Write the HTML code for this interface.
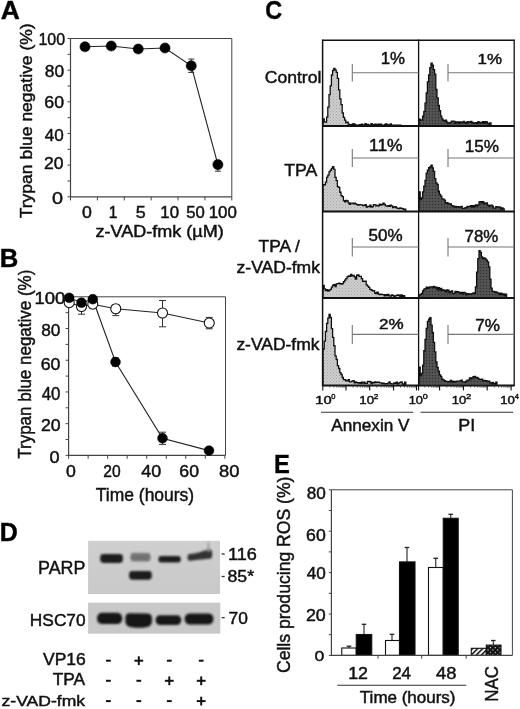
<!DOCTYPE html>
<html><head><meta charset="utf-8"><style>
html,body{margin:0;padding:0;background:#fff;}
svg{display:block;font-family:"Liberation Sans",sans-serif;filter:grayscale(100%) blur(0.35px);}
text{stroke:#111;stroke-width:0.45px;}
</style></head><body>
<svg width="520" height="709" viewBox="0 0 520 709">
<rect width="520" height="709" fill="#fff"/>
<text transform="translate(0.64,19.00) scale(1.024,1)" font-size="25.80" font-weight="bold" fill="#000">A</text>
<line x1="70.50" y1="38.50" x2="231.80" y2="38.50" stroke="#444" stroke-width="1"/>
<line x1="231.80" y1="38.50" x2="231.80" y2="196.80" stroke="#444" stroke-width="1"/>
<line x1="70.50" y1="38.50" x2="70.50" y2="197.30" stroke="#444" stroke-width="1.2"/>
<line x1="70.00" y1="196.80" x2="231.80" y2="196.80" stroke="#444" stroke-width="1.2"/>
<line x1="67.50" y1="196.80" x2="70.50" y2="196.80" stroke="#444" stroke-width="1"/>
<line x1="67.50" y1="180.97" x2="70.50" y2="180.97" stroke="#444" stroke-width="1"/>
<line x1="67.50" y1="165.14" x2="70.50" y2="165.14" stroke="#444" stroke-width="1"/>
<line x1="67.50" y1="149.31" x2="70.50" y2="149.31" stroke="#444" stroke-width="1"/>
<line x1="67.50" y1="133.48" x2="70.50" y2="133.48" stroke="#444" stroke-width="1"/>
<line x1="67.50" y1="117.65" x2="70.50" y2="117.65" stroke="#444" stroke-width="1"/>
<line x1="67.50" y1="101.82" x2="70.50" y2="101.82" stroke="#444" stroke-width="1"/>
<line x1="67.50" y1="85.99" x2="70.50" y2="85.99" stroke="#444" stroke-width="1"/>
<line x1="67.50" y1="70.16" x2="70.50" y2="70.16" stroke="#444" stroke-width="1"/>
<line x1="67.50" y1="54.33" x2="70.50" y2="54.33" stroke="#444" stroke-width="1"/>
<line x1="67.50" y1="38.50" x2="70.50" y2="38.50" stroke="#444" stroke-width="1"/>
<text transform="translate(38.40,45.03) scale(0.960,1)" font-size="16.62" fill="#111">100</text>
<text transform="translate(44.72,77.13) scale(1.037,1)" font-size="16.76" fill="#111">80</text>
<text transform="translate(44.31,107.73) scale(1.051,1)" font-size="16.90" fill="#111">60</text>
<text transform="translate(44.86,141.43) scale(1.001,1)" font-size="17.04" fill="#111">40</text>
<text transform="translate(44.02,169.34) scale(1.066,1)" font-size="16.48" fill="#111">20</text>
<text transform="translate(52.01,203.64) scale(1.201,1)" font-size="16.48" fill="#111">0</text>
<line x1="70.50" y1="196.80" x2="70.50" y2="200.40" stroke="#444" stroke-width="1"/>
<line x1="97.38" y1="196.80" x2="97.38" y2="200.40" stroke="#444" stroke-width="1"/>
<line x1="124.27" y1="196.80" x2="124.27" y2="200.40" stroke="#444" stroke-width="1"/>
<line x1="151.15" y1="196.80" x2="151.15" y2="200.40" stroke="#444" stroke-width="1"/>
<line x1="178.03" y1="196.80" x2="178.03" y2="200.40" stroke="#444" stroke-width="1"/>
<line x1="204.92" y1="196.80" x2="204.92" y2="200.40" stroke="#444" stroke-width="1"/>
<line x1="231.80" y1="196.80" x2="231.80" y2="200.40" stroke="#444" stroke-width="1"/>
<text transform="translate(81.99,218.24) scale(1.123,1)" font-size="15.77" fill="#111">0</text>
<text transform="translate(108.83,218.40) scale(0.963,1)" font-size="16.23" fill="#111">1</text>
<text transform="translate(135.78,218.24) scale(1.118,1)" font-size="16.00" fill="#111">5</text>
<text transform="translate(160.34,218.24) scale(1.065,1)" font-size="15.77" fill="#111">10</text>
<text transform="translate(186.33,218.24) scale(1.060,1)" font-size="15.77" fill="#111">50</text>
<text transform="translate(208.73,218.24) scale(1.072,1)" font-size="15.77" fill="#111">100</text>
<text transform="translate(95.58,236.80) scale(1.157,1)" font-size="15.59" fill="#111">z-VAD-fmk (µM)</text>
<text transform="translate(32.06,218.25) rotate(-90) scale(1.070,1)" font-size="16.36" fill="#111">Trypan blue negative (%)</text>
<path d="M85.00,46.75 L111.25,46.00 L138.25,49.00 L165.00,48.00 L191.25,65.75 L217.90,164.60" fill="none" stroke="#222" stroke-width="1.1" />
<line x1="191.25" y1="59.05" x2="191.25" y2="72.45" stroke="#333" stroke-width="1"/>
<line x1="188.25" y1="59.05" x2="194.25" y2="59.05" stroke="#333" stroke-width="1"/>
<line x1="188.25" y1="72.45" x2="194.25" y2="72.45" stroke="#333" stroke-width="1"/>
<line x1="217.90" y1="160.60" x2="217.90" y2="171.20" stroke="#333" stroke-width="1"/>
<line x1="214.90" y1="160.60" x2="220.90" y2="160.60" stroke="#333" stroke-width="1"/>
<line x1="214.90" y1="171.20" x2="220.90" y2="171.20" stroke="#333" stroke-width="1"/>
<circle cx="85.00" cy="46.75" r="5.10" fill="#000" stroke="#000" stroke-width="0.5"/>
<circle cx="111.25" cy="46.00" r="5.10" fill="#000" stroke="#000" stroke-width="0.5"/>
<circle cx="138.25" cy="49.00" r="5.10" fill="#000" stroke="#000" stroke-width="0.5"/>
<circle cx="165.00" cy="48.00" r="5.10" fill="#000" stroke="#000" stroke-width="0.5"/>
<circle cx="191.25" cy="65.75" r="5.10" fill="#000" stroke="#000" stroke-width="0.5"/>
<circle cx="217.90" cy="164.60" r="5.10" fill="#000" stroke="#000" stroke-width="0.5"/>
<text transform="translate(-0.37,266.90) scale(0.981,1)" font-size="26.23" font-weight="bold" fill="#000">B</text>
<line x1="68.60" y1="296.80" x2="225.50" y2="296.80" stroke="#444" stroke-width="1"/>
<line x1="225.50" y1="296.80" x2="225.50" y2="455.40" stroke="#444" stroke-width="1"/>
<line x1="68.60" y1="296.80" x2="68.60" y2="455.90" stroke="#444" stroke-width="1.2"/>
<line x1="68.10" y1="455.40" x2="225.50" y2="455.40" stroke="#444" stroke-width="1.2"/>
<line x1="65.60" y1="455.40" x2="68.60" y2="455.40" stroke="#444" stroke-width="1"/>
<line x1="65.60" y1="439.54" x2="68.60" y2="439.54" stroke="#444" stroke-width="1"/>
<line x1="65.60" y1="423.68" x2="68.60" y2="423.68" stroke="#444" stroke-width="1"/>
<line x1="65.60" y1="407.82" x2="68.60" y2="407.82" stroke="#444" stroke-width="1"/>
<line x1="65.60" y1="391.96" x2="68.60" y2="391.96" stroke="#444" stroke-width="1"/>
<line x1="65.60" y1="376.10" x2="68.60" y2="376.10" stroke="#444" stroke-width="1"/>
<line x1="65.60" y1="360.24" x2="68.60" y2="360.24" stroke="#444" stroke-width="1"/>
<line x1="65.60" y1="344.38" x2="68.60" y2="344.38" stroke="#444" stroke-width="1"/>
<line x1="65.60" y1="328.52" x2="68.60" y2="328.52" stroke="#444" stroke-width="1"/>
<line x1="65.60" y1="312.66" x2="68.60" y2="312.66" stroke="#444" stroke-width="1"/>
<line x1="65.60" y1="296.80" x2="68.60" y2="296.80" stroke="#444" stroke-width="1"/>
<text transform="translate(34.41,303.64) scale(1.185,1)" font-size="15.63" fill="#111">100</text>
<text transform="translate(41.22,336.33) scale(1.014,1)" font-size="17.04" fill="#111">80</text>
<text transform="translate(40.71,369.93) scale(1.051,1)" font-size="16.90" fill="#111">60</text>
<text transform="translate(41.66,399.53) scale(0.966,1)" font-size="17.46" fill="#111">40</text>
<text transform="translate(40.92,430.74) scale(1.072,1)" font-size="16.48" fill="#111">20</text>
<text transform="translate(49.48,463.04) scale(1.149,1)" font-size="15.77" fill="#111">0</text>
<line x1="68.60" y1="455.40" x2="68.60" y2="458.80" stroke="#444" stroke-width="1"/>
<line x1="88.13" y1="455.40" x2="88.13" y2="458.80" stroke="#444" stroke-width="1"/>
<line x1="107.66" y1="455.40" x2="107.66" y2="458.80" stroke="#444" stroke-width="1"/>
<line x1="127.19" y1="455.40" x2="127.19" y2="458.80" stroke="#444" stroke-width="1"/>
<line x1="146.72" y1="455.40" x2="146.72" y2="458.80" stroke="#444" stroke-width="1"/>
<line x1="166.25" y1="455.40" x2="166.25" y2="458.80" stroke="#444" stroke-width="1"/>
<line x1="185.78" y1="455.40" x2="185.78" y2="458.80" stroke="#444" stroke-width="1"/>
<line x1="205.31" y1="455.40" x2="205.31" y2="458.80" stroke="#444" stroke-width="1"/>
<line x1="224.84" y1="455.40" x2="224.84" y2="458.80" stroke="#444" stroke-width="1"/>
<text transform="translate(65.89,476.84) scale(1.084,1)" font-size="16.34" fill="#111">0</text>
<text transform="translate(103.22,476.84) scale(0.955,1)" font-size="16.34" fill="#111">20</text>
<text transform="translate(141.34,476.84) scale(1.097,1)" font-size="16.34" fill="#111">40</text>
<text transform="translate(179.32,476.84) scale(1.081,1)" font-size="16.34" fill="#111">60</text>
<text transform="translate(218.97,476.84) scale(1.123,1)" font-size="16.34" fill="#111">80</text>
<text transform="translate(95.85,501.20) scale(0.997,1)" font-size="17.52" fill="#111">Time (hours)</text>
<text transform="translate(31.29,458.74) rotate(-90) scale(0.963,1)" font-size="17.65" fill="#111">Trypan blue negative (%)</text>
<path d="M69.20,302.70 L81.50,306.50 L92.80,304.20 L115.75,308.75 L162.50,313.00 L209.25,323.00" fill="none" stroke="#222" stroke-width="1.1" />
<path d="M69.20,297.80 L81.50,302.70 L92.80,299.20 L115.50,362.00 L162.50,438.20 L209.00,450.60" fill="none" stroke="#222" stroke-width="1.1" />
<line x1="81.50" y1="300.50" x2="81.50" y2="314.20" stroke="#333" stroke-width="1"/>
<line x1="78.00" y1="300.50" x2="85.00" y2="300.50" stroke="#333" stroke-width="1"/>
<line x1="78.00" y1="314.20" x2="85.00" y2="314.20" stroke="#333" stroke-width="1"/>
<line x1="92.80" y1="301.20" x2="92.80" y2="308.20" stroke="#333" stroke-width="1"/>
<line x1="89.30" y1="301.20" x2="96.30" y2="301.20" stroke="#333" stroke-width="1"/>
<line x1="89.30" y1="308.20" x2="96.30" y2="308.20" stroke="#333" stroke-width="1"/>
<line x1="115.75" y1="304.75" x2="115.75" y2="315.65" stroke="#333" stroke-width="1"/>
<line x1="112.25" y1="304.75" x2="119.25" y2="304.75" stroke="#333" stroke-width="1"/>
<line x1="112.25" y1="315.65" x2="119.25" y2="315.65" stroke="#333" stroke-width="1"/>
<line x1="162.50" y1="300.50" x2="162.50" y2="326.80" stroke="#333" stroke-width="1"/>
<line x1="159.00" y1="300.50" x2="166.00" y2="300.50" stroke="#333" stroke-width="1"/>
<line x1="159.00" y1="326.80" x2="166.00" y2="326.80" stroke="#333" stroke-width="1"/>
<line x1="209.25" y1="317.40" x2="209.25" y2="328.80" stroke="#333" stroke-width="1"/>
<line x1="205.75" y1="317.40" x2="212.75" y2="317.40" stroke="#333" stroke-width="1"/>
<line x1="205.75" y1="328.80" x2="212.75" y2="328.80" stroke="#333" stroke-width="1"/>
<line x1="115.50" y1="358.00" x2="115.50" y2="366.00" stroke="#333" stroke-width="1"/>
<line x1="112.00" y1="358.00" x2="119.00" y2="358.00" stroke="#333" stroke-width="1"/>
<line x1="112.00" y1="366.00" x2="119.00" y2="366.00" stroke="#333" stroke-width="1"/>
<line x1="162.50" y1="432.20" x2="162.50" y2="444.40" stroke="#333" stroke-width="1"/>
<line x1="159.00" y1="432.20" x2="166.00" y2="432.20" stroke="#333" stroke-width="1"/>
<line x1="159.00" y1="444.40" x2="166.00" y2="444.40" stroke="#333" stroke-width="1"/>
<circle cx="69.20" cy="302.70" r="5.00" fill="#fff" stroke="#111" stroke-width="1.1"/>
<circle cx="81.50" cy="306.50" r="5.00" fill="#fff" stroke="#111" stroke-width="1.1"/>
<circle cx="92.80" cy="304.20" r="5.00" fill="#fff" stroke="#111" stroke-width="1.1"/>
<circle cx="115.75" cy="308.75" r="5.00" fill="#fff" stroke="#111" stroke-width="1.1"/>
<circle cx="162.50" cy="313.00" r="5.00" fill="#fff" stroke="#111" stroke-width="1.1"/>
<circle cx="209.25" cy="323.00" r="5.00" fill="#fff" stroke="#111" stroke-width="1.1"/>
<circle cx="69.20" cy="297.80" r="4.90" fill="#000" stroke="#000" stroke-width="0.5"/>
<circle cx="81.50" cy="302.70" r="4.90" fill="#000" stroke="#000" stroke-width="0.5"/>
<circle cx="92.80" cy="299.20" r="4.90" fill="#000" stroke="#000" stroke-width="0.5"/>
<circle cx="115.50" cy="362.00" r="4.90" fill="#000" stroke="#000" stroke-width="0.5"/>
<circle cx="162.50" cy="438.20" r="4.90" fill="#000" stroke="#000" stroke-width="0.5"/>
<circle cx="209.00" cy="450.60" r="4.90" fill="#000" stroke="#000" stroke-width="0.5"/>
<text transform="translate(265.17,19.05) scale(0.916,1)" font-size="25.49" font-weight="bold" fill="#000">C</text>
<defs><pattern id="stip" width="3" height="3" patternUnits="userSpaceOnUse"><rect width="3" height="3" fill="#cdcdcd"/><rect x="0" y="0" width="1" height="1" fill="#a8a8a8"/><rect x="1.5" y="1.5" width="1" height="1" fill="#b4b4b4"/></pattern><pattern id="dstip" width="3" height="3" patternUnits="userSpaceOnUse"><rect width="3" height="3" fill="#4e4e4e"/><rect x="0" y="0" width="1" height="1" fill="#333"/><rect x="1.5" y="1.5" width="1" height="1" fill="#666"/></pattern></defs>
<path d="M323.00,125.40 L323.00,118.95 L324.20,118.95 L324.20,121.87 L325.40,121.87 L325.40,122.20 L326.60,122.20 L326.60,117.13 L327.80,117.13 L327.80,107.04 L329.00,107.04 L329.00,94.63 L330.20,94.63 L330.20,85.86 L331.40,85.86 L331.40,74.98 L332.60,74.98 L332.60,70.51 L333.80,70.51 L333.80,68.40 L335.00,68.40 L335.00,69.97 L336.20,69.97 L336.20,72.28 L337.40,72.28 L337.40,78.35 L338.60,78.35 L338.60,89.80 L339.80,89.80 L339.80,98.84 L341.00,98.84 L341.00,104.65 L342.20,104.65 L342.20,112.96 L343.40,112.96 L343.40,117.29 L344.60,117.29 L344.60,120.04 L345.80,120.04 L345.80,122.64 L347.00,122.64 L347.00,122.27 L348.20,122.27 L348.20,124.13 L349.40,124.13 L349.40,124.87 L350.60,124.87 L350.60,124.67 L351.80,124.67 L351.80,124.48 L353.00,124.48 L353.00,123.63 L354.20,123.63 L354.20,124.46 L355.40,124.46 L355.40,124.90 L356.60,124.90 L356.60,125.40 L357.80,125.40 L357.80,125.40 L359.00,125.40 L359.00,124.60 L360.20,124.60 L360.20,125.40 L361.40,125.40 L361.40,124.09 L362.60,124.09 L362.60,125.40 L363.80,125.40 L363.80,124.82 L365.00,124.82 L365.00,123.53 L366.20,123.53 L366.20,125.25 L367.40,125.25 L367.40,124.48 L368.60,124.48 L368.60,125.40 L369.80,125.40 L369.80,125.16 L371.00,125.16 L371.00,123.55 L372.20,123.55 L372.20,124.75 L373.40,124.75 L373.40,125.40 L374.60,125.40 L374.60,124.17 L375.80,124.17 L375.80,124.37 L377.00,124.37 L377.00,125.40 L378.20,125.40 L378.20,124.07 L379.40,124.07 L379.40,124.99 L380.60,124.99 L380.60,124.20 L381.80,124.20 L381.80,125.40 L383.00,125.40 L383.00,125.40 L384.20,125.40 L384.20,124.74 L385.40,124.74 L385.40,123.86 L386.60,123.86 L386.60,124.45 L387.80,124.45 L387.80,124.92 L389.00,124.92 L389.00,125.40 L390.20,125.40 L390.20,123.97 L391.40,123.97 L391.40,125.05 L392.60,125.05 L392.60,125.40 L393.80,125.40 L393.80,125.06 L395.00,125.06 L395.00,125.40 L396.20,125.40 L396.20,125.07 L397.40,125.07 L397.40,125.40 L398.60,125.40 L398.60,125.24 L399.80,125.24 L399.80,125.21 L401.00,125.21 L401.00,125.40" fill="url(#stip)" stroke="#111" stroke-width="1.3" stroke-linejoin="miter"/>
<path d="M419.00,125.40 L419.00,119.19 L420.20,119.19 L420.20,120.01 L421.40,120.01 L421.40,120.21 L422.60,120.21 L422.60,116.17 L423.80,116.17 L423.80,111.39 L425.00,111.39 L425.00,103.16 L426.20,103.16 L426.20,93.00 L427.40,93.00 L427.40,81.87 L428.60,81.87 L428.60,74.88 L429.80,74.88 L429.80,67.59 L431.00,67.59 L431.00,63.06 L432.20,63.06 L432.20,65.10 L433.40,65.10 L433.40,69.60 L434.60,69.60 L434.60,74.22 L435.80,74.22 L435.80,89.40 L437.00,89.40 L437.00,97.89 L438.20,97.89 L438.20,105.50 L439.40,105.50 L439.40,110.63 L440.60,110.63 L440.60,116.16 L441.80,116.16 L441.80,118.83 L443.00,118.83 L443.00,120.50 L444.20,120.50 L444.20,121.03 L445.40,121.03 L445.40,120.24 L446.60,120.24 L446.60,122.27 L447.80,122.27 L447.80,122.99 L449.00,122.99 L449.00,123.11 L450.20,123.11 L450.20,122.35 L451.40,122.35 L451.40,121.05 L452.60,121.05 L452.60,121.04 L453.80,121.04 L453.80,121.39 L455.00,121.39 L455.00,123.46 L456.20,123.46 L456.20,121.84 L457.40,121.84 L457.40,122.02 L458.60,122.02 L458.60,123.39 L459.80,123.39 L459.80,121.91 L461.00,121.91 L461.00,122.52 L462.20,122.52 L462.20,122.25 L463.40,122.25 L463.40,121.32 L464.60,121.32 L464.60,122.66 L465.80,122.66 L465.80,123.33 L467.00,123.33 L467.00,121.59 L468.20,121.59 L468.20,121.78 L469.40,121.78 L469.40,122.27 L470.60,122.27 L470.60,121.33 L471.80,121.33 L471.80,122.51 L473.00,122.51 L473.00,123.34 L474.20,123.34 L474.20,122.95 L475.40,122.95 L475.40,122.65 L476.60,122.65 L476.60,123.48 L477.80,123.48 L477.80,121.70 L479.00,121.70 L479.00,122.77 L480.20,122.77 L480.20,122.29 L481.40,122.29 L481.40,122.88 L482.60,122.88 L482.60,121.66 L483.80,121.66 L483.80,123.35 L485.00,123.35 L485.00,121.64 L486.20,121.64 L486.20,121.83 L487.40,121.83 L487.40,123.47 L488.60,123.47 L488.60,123.98 L489.80,123.98 L489.80,122.98 L491.00,122.98 L491.00,125.40" fill="url(#dstip)" stroke="#111" stroke-width="1.3" stroke-linejoin="miter"/>
<path d="M323.00,210.90 L323.00,184.67 L324.20,184.67 L324.20,184.91 L325.40,184.91 L325.40,182.22 L326.60,182.22 L326.60,177.44 L327.80,177.44 L327.80,175.18 L329.00,175.18 L329.00,171.80 L330.20,171.80 L330.20,170.23 L331.40,170.23 L331.40,168.41 L332.60,168.41 L332.60,166.56 L333.80,166.56 L333.80,169.36 L335.00,169.36 L335.00,177.31 L336.20,177.31 L336.20,180.54 L337.40,180.54 L337.40,186.56 L338.60,186.56 L338.60,187.34 L339.80,187.34 L339.80,192.26 L341.00,192.26 L341.00,195.71 L342.20,195.71 L342.20,196.57 L343.40,196.57 L343.40,200.72 L344.60,200.72 L344.60,201.77 L345.80,201.77 L345.80,200.46 L347.00,200.46 L347.00,200.99 L348.20,200.99 L348.20,202.85 L349.40,202.85 L349.40,204.36 L350.60,204.36 L350.60,203.20 L351.80,203.20 L351.80,203.15 L353.00,203.15 L353.00,203.97 L354.20,203.97 L354.20,203.13 L355.40,203.13 L355.40,203.88 L356.60,203.88 L356.60,204.69 L357.80,204.69 L357.80,205.08 L359.00,205.08 L359.00,204.60 L360.20,204.60 L360.20,204.80 L361.40,204.80 L361.40,204.89 L362.60,204.89 L362.60,205.65 L363.80,205.65 L363.80,205.32 L365.00,205.32 L365.00,204.73 L366.20,204.73 L366.20,207.01 L367.40,207.01 L367.40,206.39 L368.60,206.39 L368.60,206.59 L369.80,206.59 L369.80,205.23 L371.00,205.23 L371.00,207.21 L372.20,207.21 L372.20,206.70 L373.40,206.70 L373.40,204.57 L374.60,204.57 L374.60,204.93 L375.80,204.93 L375.80,205.74 L377.00,205.74 L377.00,205.47 L378.20,205.47 L378.20,205.84 L379.40,205.84 L379.40,204.22 L380.60,204.22 L380.60,205.12 L381.80,205.12 L381.80,204.48 L383.00,204.48 L383.00,203.26 L384.20,203.26 L384.20,204.52 L385.40,204.52 L385.40,205.80 L386.60,205.80 L386.60,206.17 L387.80,206.17 L387.80,205.73 L389.00,205.73 L389.00,206.28 L390.20,206.28 L390.20,205.11 L391.40,205.11 L391.40,205.95 L392.60,205.95 L392.60,207.69 L393.80,207.69 L393.80,206.99 L395.00,206.99 L395.00,206.66 L396.20,206.66 L396.20,207.82 L397.40,207.82 L397.40,208.41 L398.60,208.41 L398.60,208.53 L399.80,208.53 L399.80,207.96 L401.00,207.96 L401.00,208.32 L402.20,208.32 L402.20,208.69 L403.40,208.69 L403.40,209.60 L404.60,209.60 L404.60,209.25 L405.80,209.25 L405.80,210.90" fill="url(#stip)" stroke="#111" stroke-width="1.3" stroke-linejoin="miter"/>
<path d="M419.00,210.90 L419.00,191.84 L420.20,191.84 L420.20,199.68 L421.40,199.68 L421.40,197.82 L422.60,197.82 L422.60,191.89 L423.80,191.89 L423.80,186.03 L425.00,186.03 L425.00,180.34 L426.20,180.34 L426.20,173.07 L427.40,173.07 L427.40,170.15 L428.60,170.15 L428.60,167.76 L429.80,167.76 L429.80,166.89 L431.00,166.89 L431.00,165.17 L432.20,165.17 L432.20,167.93 L433.40,167.93 L433.40,171.30 L434.60,171.30 L434.60,178.61 L435.80,178.61 L435.80,182.94 L437.00,182.94 L437.00,184.33 L438.20,184.33 L438.20,191.27 L439.40,191.27 L439.40,194.47 L440.60,194.47 L440.60,196.22 L441.80,196.22 L441.80,198.88 L443.00,198.88 L443.00,199.14 L444.20,199.14 L444.20,200.14 L445.40,200.14 L445.40,202.99 L446.60,202.99 L446.60,202.63 L447.80,202.63 L447.80,203.47 L449.00,203.47 L449.00,204.10 L450.20,204.10 L450.20,204.02 L451.40,204.02 L451.40,205.66 L452.60,205.66 L452.60,205.92 L453.80,205.92 L453.80,207.13 L455.00,207.13 L455.00,206.43 L456.20,206.43 L456.20,206.89 L457.40,206.89 L457.40,206.67 L458.60,206.67 L458.60,207.25 L459.80,207.25 L459.80,206.86 L461.00,206.86 L461.00,206.42 L462.20,206.42 L462.20,208.29 L463.40,208.29 L463.40,208.29 L464.60,208.29 L464.60,207.88 L465.80,207.88 L465.80,207.54 L467.00,207.54 L467.00,206.52 L468.20,206.52 L468.20,206.30 L469.40,206.30 L469.40,206.45 L470.60,206.45 L470.60,205.68 L471.80,205.68 L471.80,207.10 L473.00,207.10 L473.00,205.74 L474.20,205.74 L474.20,206.52 L475.40,206.52 L475.40,204.90 L476.60,204.90 L476.60,205.88 L477.80,205.88 L477.80,204.87 L479.00,204.87 L479.00,201.81 L480.20,201.81 L480.20,201.66 L481.40,201.66 L481.40,202.93 L482.60,202.93 L482.60,201.70 L483.80,201.70 L483.80,203.92 L485.00,203.92 L485.00,203.07 L486.20,203.07 L486.20,202.93 L487.40,202.93 L487.40,205.05 L488.60,205.05 L488.60,206.05 L489.80,206.05 L489.80,205.29 L491.00,205.29 L491.00,205.21 L492.20,205.21 L492.20,206.22 L493.40,206.22 L493.40,208.22 L494.60,208.22 L494.60,208.04 L495.80,208.04 L495.80,206.65 L497.00,206.65 L497.00,207.19 L498.20,207.19 L498.20,207.02 L499.40,207.02 L499.40,207.12 L500.60,207.12 L500.60,209.18 L501.80,209.18 L501.80,207.82 L503.00,207.82 L503.00,208.98 L504.20,208.98 L504.20,210.90" fill="url(#dstip)" stroke="#111" stroke-width="1.3" stroke-linejoin="miter"/>
<path d="M323.00,297.40 L323.00,285.40 L324.20,285.40 L324.20,288.80 L325.40,288.80 L325.40,290.65 L326.60,290.65 L326.60,289.70 L327.80,289.70 L327.80,291.03 L329.00,291.03 L329.00,290.16 L330.20,290.16 L330.20,289.28 L331.40,289.28 L331.40,287.05 L332.60,287.05 L332.60,285.24 L333.80,285.24 L333.80,284.70 L335.00,284.70 L335.00,286.64 L336.20,286.64 L336.20,283.93 L337.40,283.93 L337.40,283.65 L338.60,283.65 L338.60,283.14 L339.80,283.14 L339.80,283.76 L341.00,283.76 L341.00,284.22 L342.20,284.22 L342.20,283.69 L343.40,283.69 L343.40,281.74 L344.60,281.74 L344.60,280.22 L345.80,280.22 L345.80,278.64 L347.00,278.64 L347.00,276.95 L348.20,276.95 L348.20,276.00 L349.40,276.00 L349.40,276.35 L350.60,276.35 L350.60,274.46 L351.80,274.46 L351.80,275.89 L353.00,275.89 L353.00,275.40 L354.20,275.40 L354.20,276.86 L355.40,276.86 L355.40,279.20 L356.60,279.20 L356.60,275.24 L357.80,275.24 L357.80,274.81 L359.00,274.81 L359.00,276.40 L360.20,276.40 L360.20,276.42 L361.40,276.42 L361.40,278.58 L362.60,278.58 L362.60,281.24 L363.80,281.24 L363.80,281.36 L365.00,281.36 L365.00,281.25 L366.20,281.25 L366.20,284.96 L367.40,284.96 L367.40,286.14 L368.60,286.14 L368.60,287.44 L369.80,287.44 L369.80,289.41 L371.00,289.41 L371.00,289.99 L372.20,289.99 L372.20,290.93 L373.40,290.93 L373.40,290.54 L374.60,290.54 L374.60,293.02 L375.80,293.02 L375.80,293.62 L377.00,293.62 L377.00,292.11 L378.20,292.11 L378.20,294.22 L379.40,294.22 L379.40,294.52 L380.60,294.52 L380.60,294.27 L381.80,294.27 L381.80,294.62 L383.00,294.62 L383.00,294.59 L384.20,294.59 L384.20,295.76 L385.40,295.76 L385.40,294.75 L386.60,294.75 L386.60,295.65 L387.80,295.65 L387.80,294.51 L389.00,294.51 L389.00,295.91 L390.20,295.91 L390.20,296.02 L391.40,296.02 L391.40,295.01 L392.60,295.01 L392.60,295.37 L393.80,295.37 L393.80,296.35 L395.00,296.35 L395.00,295.94 L396.20,295.94 L396.20,295.44 L397.40,295.44 L397.40,294.88 L398.60,294.88 L398.60,295.23 L399.80,295.23 L399.80,296.25 L401.00,296.25 L401.00,295.02 L402.20,295.02 L402.20,296.95 L403.40,296.95 L403.40,295.53 L404.60,295.53 L404.60,297.40 L405.80,297.40 L405.80,297.40" fill="url(#stip)" stroke="#111" stroke-width="1.3" stroke-linejoin="miter"/>
<path d="M419.00,297.40 L419.00,294.94 L420.20,294.94 L420.20,294.40 L421.40,294.40 L421.40,293.44 L422.60,293.44 L422.60,290.87 L423.80,290.87 L423.80,289.13 L425.00,289.13 L425.00,288.77 L426.20,288.77 L426.20,287.27 L427.40,287.27 L427.40,288.34 L428.60,288.34 L428.60,287.52 L429.80,287.52 L429.80,286.78 L431.00,286.78 L431.00,286.85 L432.20,286.85 L432.20,287.48 L433.40,287.48 L433.40,286.31 L434.60,286.31 L434.60,287.53 L435.80,287.53 L435.80,287.13 L437.00,287.13 L437.00,289.65 L438.20,289.65 L438.20,287.65 L439.40,287.65 L439.40,290.19 L440.60,290.19 L440.60,288.46 L441.80,288.46 L441.80,290.47 L443.00,290.47 L443.00,289.80 L444.20,289.80 L444.20,290.29 L445.40,290.29 L445.40,291.78 L446.60,291.78 L446.60,289.79 L447.80,289.79 L447.80,290.11 L449.00,290.11 L449.00,292.62 L450.20,292.62 L450.20,291.72 L451.40,291.72 L451.40,290.81 L452.60,290.81 L452.60,293.37 L453.80,293.37 L453.80,293.40 L455.00,293.40 L455.00,291.33 L456.20,291.33 L456.20,292.30 L457.40,292.30 L457.40,291.68 L458.60,291.68 L458.60,292.29 L459.80,292.29 L459.80,293.30 L461.00,293.30 L461.00,292.30 L462.20,292.30 L462.20,293.89 L463.40,293.89 L463.40,292.41 L464.60,292.41 L464.60,292.92 L465.80,292.92 L465.80,294.78 L467.00,294.78 L467.00,293.74 L468.20,293.74 L468.20,293.79 L469.40,293.79 L469.40,294.25 L470.60,294.25 L470.60,293.94 L471.80,293.94 L471.80,293.70 L473.00,293.70 L473.00,292.79 L474.20,292.79 L474.20,293.40 L475.40,293.40 L475.40,287.00 L476.60,287.00 L476.60,272.12 L477.80,272.12 L477.80,258.70 L479.00,258.70 L479.00,250.69 L480.20,250.69 L480.20,252.42 L481.40,252.42 L481.40,256.84 L482.60,256.84 L482.60,258.78 L483.80,258.78 L483.80,257.79 L485.00,257.79 L485.00,258.97 L486.20,258.97 L486.20,260.17 L487.40,260.17 L487.40,261.94 L488.60,261.94 L488.60,267.01 L489.80,267.01 L489.80,279.20 L491.00,279.20 L491.00,288.18 L492.20,288.18 L492.20,291.39 L493.40,291.39 L493.40,291.31 L494.60,291.31 L494.60,292.25 L495.80,292.25 L495.80,291.87 L497.00,291.87 L497.00,292.81 L498.20,292.81 L498.20,293.11 L499.40,293.11 L499.40,294.50 L500.60,294.50 L500.60,293.13 L501.80,293.13 L501.80,294.58 L503.00,294.58 L503.00,293.93 L504.20,293.93 L504.20,295.54 L505.40,295.54 L505.40,294.19 L506.60,294.19 L506.60,297.40" fill="url(#dstip)" stroke="#111" stroke-width="1.3" stroke-linejoin="miter"/>
<path d="M323.00,384.80 L323.00,348.98 L324.20,348.98 L324.20,341.17 L325.40,341.17 L325.40,331.49 L326.60,331.49 L326.60,323.41 L327.80,323.41 L327.80,318.19 L329.00,318.19 L329.00,314.45 L330.20,314.45 L330.20,317.43 L331.40,317.43 L331.40,328.65 L332.60,328.65 L332.60,337.33 L333.80,337.33 L333.80,345.76 L335.00,345.76 L335.00,355.93 L336.20,355.93 L336.20,359.29 L337.40,359.29 L337.40,365.55 L338.60,365.55 L338.60,368.52 L339.80,368.52 L339.80,372.62 L341.00,372.62 L341.00,374.50 L342.20,374.50 L342.20,377.48 L343.40,377.48 L343.40,379.70 L344.60,379.70 L344.60,379.76 L345.80,379.76 L345.80,380.74 L347.00,380.74 L347.00,380.95 L348.20,380.95 L348.20,379.77 L349.40,379.77 L349.40,381.96 L350.60,381.96 L350.60,381.78 L351.80,381.78 L351.80,381.14 L353.00,381.14 L353.00,380.54 L354.20,380.54 L354.20,382.77 L355.40,382.77 L355.40,381.86 L356.60,381.86 L356.60,382.58 L357.80,382.58 L357.80,383.08 L359.00,383.08 L359.00,382.76 L360.20,382.76 L360.20,383.37 L361.40,383.37 L361.40,382.06 L362.60,382.06 L362.60,383.10 L363.80,383.10 L363.80,382.22 L365.00,382.22 L365.00,383.47 L366.20,383.47 L366.20,383.35 L367.40,383.35 L367.40,381.40 L368.60,381.40 L368.60,381.51 L369.80,381.51 L369.80,381.73 L371.00,381.73 L371.00,383.64 L372.20,383.64 L372.20,382.32 L373.40,382.32 L373.40,382.82 L374.60,382.82 L374.60,382.02 L375.80,382.02 L375.80,382.56 L377.00,382.56 L377.00,382.27 L378.20,382.27 L378.20,382.20 L379.40,382.20 L379.40,382.80 L380.60,382.80 L380.60,382.82 L381.80,382.82 L381.80,383.65 L383.00,383.65 L383.00,383.11 L384.20,383.11 L384.20,383.75 L385.40,383.75 L385.40,383.59 L386.60,383.59 L386.60,383.94 L387.80,383.94 L387.80,383.16 L389.00,383.16 L389.00,381.91 L390.20,381.91 L390.20,383.68 L391.40,383.68 L391.40,383.96 L392.60,383.96 L392.60,383.83 L393.80,383.83 L393.80,383.01 L395.00,383.01 L395.00,383.39 L396.20,383.39 L396.20,382.16 L397.40,382.16 L397.40,383.73 L398.60,383.73 L398.60,383.11 L399.80,383.11 L399.80,382.41 L401.00,382.41 L401.00,381.88 L402.20,381.88 L402.20,383.87 L403.40,383.87 L403.40,384.26 L404.60,384.26 L404.60,382.14 L405.80,382.14 L405.80,384.80" fill="url(#stip)" stroke="#111" stroke-width="1.3" stroke-linejoin="miter"/>
<path d="M419.00,384.80 L419.00,367.22 L420.20,367.22 L420.20,375.73 L421.40,375.73 L421.40,373.35 L422.60,373.35 L422.60,365.20 L423.80,365.20 L423.80,350.77 L425.00,350.77 L425.00,339.45 L426.20,339.45 L426.20,328.40 L427.40,328.40 L427.40,321.37 L428.60,321.37 L428.60,319.25 L429.80,319.25 L429.80,317.60 L431.00,317.60 L431.00,325.06 L432.20,325.06 L432.20,332.48 L433.40,332.48 L433.40,342.40 L434.60,342.40 L434.60,351.93 L435.80,351.93 L435.80,361.82 L437.00,361.82 L437.00,367.36 L438.20,367.36 L438.20,371.04 L439.40,371.04 L439.40,374.86 L440.60,374.86 L440.60,376.44 L441.80,376.44 L441.80,379.27 L443.00,379.27 L443.00,379.93 L444.20,379.93 L444.20,380.75 L445.40,380.75 L445.40,381.39 L446.60,381.39 L446.60,381.30 L447.80,381.30 L447.80,381.95 L449.00,381.95 L449.00,381.66 L450.20,381.66 L450.20,380.39 L451.40,380.39 L451.40,382.04 L452.60,382.04 L452.60,381.23 L453.80,381.23 L453.80,382.04 L455.00,382.04 L455.00,381.66 L456.20,381.66 L456.20,381.26 L457.40,381.26 L457.40,381.03 L458.60,381.03 L458.60,381.14 L459.80,381.14 L459.80,380.78 L461.00,380.78 L461.00,380.21 L462.20,380.21 L462.20,381.97 L463.40,381.97 L463.40,381.85 L464.60,381.85 L464.60,382.28 L465.80,382.28 L465.80,381.10 L467.00,381.10 L467.00,380.14 L468.20,380.14 L468.20,380.06 L469.40,380.06 L469.40,377.81 L470.60,377.81 L470.60,378.81 L471.80,378.81 L471.80,377.82 L473.00,377.82 L473.00,376.74 L474.20,376.74 L474.20,376.46 L475.40,376.46 L475.40,377.60 L476.60,377.60 L476.60,377.30 L477.80,377.30 L477.80,378.32 L479.00,378.32 L479.00,379.28 L480.20,379.28 L480.20,379.32 L481.40,379.32 L481.40,379.23 L482.60,379.23 L482.60,380.78 L483.80,380.78 L483.80,380.49 L485.00,380.49 L485.00,380.75 L486.20,380.75 L486.20,380.90 L487.40,380.90 L487.40,381.60 L488.60,381.60 L488.60,381.12 L489.80,381.12 L489.80,382.84 L491.00,382.84 L491.00,383.77 L492.20,383.77 L492.20,382.52 L493.40,382.52 L493.40,383.50 L494.60,383.50 L494.60,384.19 L495.80,384.19 L495.80,382.14 L497.00,382.14 L497.00,384.80" fill="url(#dstip)" stroke="#111" stroke-width="1.3" stroke-linejoin="miter"/>
<line x1="322.60" y1="40.20" x2="514.20" y2="40.20" stroke="#111" stroke-width="1.4"/>
<line x1="322.60" y1="39.50" x2="322.60" y2="386.20" stroke="#111" stroke-width="1.5"/>
<line x1="418.60" y1="39.50" x2="418.60" y2="386.20" stroke="#111" stroke-width="1.3"/>
<line x1="514.20" y1="39.50" x2="514.20" y2="386.20" stroke="#111" stroke-width="1.3"/>
<line x1="322.60" y1="126.00" x2="514.20" y2="126.00" stroke="#111" stroke-width="2.0"/>
<line x1="322.60" y1="211.50" x2="514.20" y2="211.50" stroke="#111" stroke-width="2.0"/>
<line x1="322.60" y1="298.00" x2="514.20" y2="298.00" stroke="#111" stroke-width="2.0"/>
<line x1="322.60" y1="385.40" x2="514.20" y2="385.40" stroke="#111" stroke-width="2.0"/>
<line x1="352.30" y1="64.00" x2="352.30" y2="81.60" stroke="#777" stroke-width="1.1"/>
<line x1="352.30" y1="72.80" x2="418.60" y2="72.80" stroke="#777" stroke-width="1.1"/>
<line x1="448.00" y1="64.00" x2="448.00" y2="81.60" stroke="#777" stroke-width="1.1"/>
<line x1="448.00" y1="72.80" x2="514.20" y2="72.80" stroke="#777" stroke-width="1.1"/>
<line x1="352.30" y1="149.00" x2="352.30" y2="167.00" stroke="#777" stroke-width="1.1"/>
<line x1="352.30" y1="158.00" x2="418.60" y2="158.00" stroke="#777" stroke-width="1.1"/>
<line x1="448.00" y1="149.00" x2="448.00" y2="167.00" stroke="#777" stroke-width="1.1"/>
<line x1="448.00" y1="158.00" x2="514.20" y2="158.00" stroke="#777" stroke-width="1.1"/>
<line x1="352.30" y1="238.00" x2="352.30" y2="256.40" stroke="#777" stroke-width="1.1"/>
<line x1="352.30" y1="247.00" x2="418.60" y2="247.00" stroke="#777" stroke-width="1.1"/>
<line x1="448.00" y1="238.00" x2="448.00" y2="256.40" stroke="#777" stroke-width="1.1"/>
<line x1="448.00" y1="247.00" x2="514.20" y2="247.00" stroke="#777" stroke-width="1.1"/>
<line x1="352.30" y1="325.00" x2="352.30" y2="344.00" stroke="#777" stroke-width="1.1"/>
<line x1="352.30" y1="334.40" x2="418.60" y2="334.40" stroke="#777" stroke-width="1.1"/>
<line x1="448.00" y1="325.00" x2="448.00" y2="344.00" stroke="#777" stroke-width="1.1"/>
<line x1="448.00" y1="334.40" x2="514.20" y2="334.40" stroke="#777" stroke-width="1.1"/>
<text transform="translate(380.74,63.72) scale(1.044,1)" font-size="16.14" fill="#111">1%</text>
<text transform="translate(477.53,64.32) scale(1.097,1)" font-size="15.43" fill="#111">1%</text>
<text transform="translate(368.99,151.22) scale(1.108,1)" font-size="15.71" fill="#111">11%</text>
<text transform="translate(464.71,151.54) scale(1.042,1)" font-size="16.45" fill="#111">15%</text>
<text transform="translate(368.52,240.64) scale(1.080,1)" font-size="15.77" fill="#111">50%</text>
<text transform="translate(464.55,242.23) scale(1.001,1)" font-size="16.90" fill="#111">78%</text>
<text transform="translate(378.95,329.03) scale(1.145,1)" font-size="14.89" fill="#111">2%</text>
<text transform="translate(475.14,330.52) scale(1.090,1)" font-size="15.71" fill="#111">7%</text>
<text transform="translate(264.72,82.80) scale(1.036,1)" font-size="16.97" fill="#111">Control</text>
<text transform="translate(284.25,175.90) scale(1.046,1)" font-size="16.96" fill="#111">TPA</text>
<text transform="translate(258.55,252.30) scale(1.072,1)" font-size="16.28" fill="#111">TPA /</text>
<text transform="translate(236.60,273.20) scale(1.105,1)" font-size="15.86" fill="#111">z-VAD-fmk</text>
<text transform="translate(236.40,350.10) scale(1.082,1)" font-size="16.14" fill="#111">z-VAD-fmk</text>
<line x1="322.80" y1="385.40" x2="322.80" y2="390.40" stroke="#111" stroke-width="1.1"/>
<line x1="329.78" y1="385.40" x2="329.78" y2="387.60" stroke="#333" stroke-width="0.8"/>
<line x1="333.87" y1="385.40" x2="333.87" y2="387.60" stroke="#333" stroke-width="0.8"/>
<line x1="336.77" y1="385.40" x2="336.77" y2="387.60" stroke="#333" stroke-width="0.8"/>
<line x1="339.02" y1="385.40" x2="339.02" y2="387.60" stroke="#333" stroke-width="0.8"/>
<line x1="340.85" y1="385.40" x2="340.85" y2="387.60" stroke="#333" stroke-width="0.8"/>
<line x1="342.41" y1="385.40" x2="342.41" y2="387.60" stroke="#333" stroke-width="0.8"/>
<line x1="343.75" y1="385.40" x2="343.75" y2="387.60" stroke="#333" stroke-width="0.8"/>
<line x1="344.94" y1="385.40" x2="344.94" y2="387.60" stroke="#333" stroke-width="0.8"/>
<line x1="346.00" y1="385.40" x2="346.00" y2="390.40" stroke="#111" stroke-width="1.1"/>
<line x1="353.13" y1="385.40" x2="353.13" y2="387.60" stroke="#333" stroke-width="0.8"/>
<line x1="357.31" y1="385.40" x2="357.31" y2="387.60" stroke="#333" stroke-width="0.8"/>
<line x1="360.27" y1="385.40" x2="360.27" y2="387.60" stroke="#333" stroke-width="0.8"/>
<line x1="362.57" y1="385.40" x2="362.57" y2="387.60" stroke="#333" stroke-width="0.8"/>
<line x1="364.44" y1="385.40" x2="364.44" y2="387.60" stroke="#333" stroke-width="0.8"/>
<line x1="366.03" y1="385.40" x2="366.03" y2="387.60" stroke="#333" stroke-width="0.8"/>
<line x1="367.40" y1="385.40" x2="367.40" y2="387.60" stroke="#333" stroke-width="0.8"/>
<line x1="368.62" y1="385.40" x2="368.62" y2="387.60" stroke="#333" stroke-width="0.8"/>
<line x1="369.70" y1="385.40" x2="369.70" y2="390.40" stroke="#111" stroke-width="1.1"/>
<line x1="376.89" y1="385.40" x2="376.89" y2="387.60" stroke="#333" stroke-width="0.8"/>
<line x1="381.10" y1="385.40" x2="381.10" y2="387.60" stroke="#333" stroke-width="0.8"/>
<line x1="384.09" y1="385.40" x2="384.09" y2="387.60" stroke="#333" stroke-width="0.8"/>
<line x1="386.41" y1="385.40" x2="386.41" y2="387.60" stroke="#333" stroke-width="0.8"/>
<line x1="388.30" y1="385.40" x2="388.30" y2="387.60" stroke="#333" stroke-width="0.8"/>
<line x1="389.90" y1="385.40" x2="389.90" y2="387.60" stroke="#333" stroke-width="0.8"/>
<line x1="391.28" y1="385.40" x2="391.28" y2="387.60" stroke="#333" stroke-width="0.8"/>
<line x1="392.51" y1="385.40" x2="392.51" y2="387.60" stroke="#333" stroke-width="0.8"/>
<line x1="393.60" y1="385.40" x2="393.60" y2="390.40" stroke="#111" stroke-width="1.1"/>
<line x1="400.49" y1="385.40" x2="400.49" y2="387.60" stroke="#333" stroke-width="0.8"/>
<line x1="404.53" y1="385.40" x2="404.53" y2="387.60" stroke="#333" stroke-width="0.8"/>
<line x1="407.39" y1="385.40" x2="407.39" y2="387.60" stroke="#333" stroke-width="0.8"/>
<line x1="409.61" y1="385.40" x2="409.61" y2="387.60" stroke="#333" stroke-width="0.8"/>
<line x1="411.42" y1="385.40" x2="411.42" y2="387.60" stroke="#333" stroke-width="0.8"/>
<line x1="412.95" y1="385.40" x2="412.95" y2="387.60" stroke="#333" stroke-width="0.8"/>
<line x1="414.28" y1="385.40" x2="414.28" y2="387.60" stroke="#333" stroke-width="0.8"/>
<line x1="415.45" y1="385.40" x2="415.45" y2="387.60" stroke="#333" stroke-width="0.8"/>
<line x1="416.50" y1="385.40" x2="416.50" y2="390.40" stroke="#111" stroke-width="1.1"/>
<line x1="418.60" y1="385.40" x2="418.60" y2="390.40" stroke="#111" stroke-width="1.1"/>
<line x1="424.92" y1="385.40" x2="424.92" y2="387.60" stroke="#333" stroke-width="0.8"/>
<line x1="428.62" y1="385.40" x2="428.62" y2="387.60" stroke="#333" stroke-width="0.8"/>
<line x1="431.24" y1="385.40" x2="431.24" y2="387.60" stroke="#333" stroke-width="0.8"/>
<line x1="433.28" y1="385.40" x2="433.28" y2="387.60" stroke="#333" stroke-width="0.8"/>
<line x1="434.94" y1="385.40" x2="434.94" y2="387.60" stroke="#333" stroke-width="0.8"/>
<line x1="436.35" y1="385.40" x2="436.35" y2="387.60" stroke="#333" stroke-width="0.8"/>
<line x1="437.56" y1="385.40" x2="437.56" y2="387.60" stroke="#333" stroke-width="0.8"/>
<line x1="438.64" y1="385.40" x2="438.64" y2="387.60" stroke="#333" stroke-width="0.8"/>
<line x1="439.60" y1="385.40" x2="439.60" y2="390.40" stroke="#111" stroke-width="1.1"/>
<line x1="446.79" y1="385.40" x2="446.79" y2="387.60" stroke="#333" stroke-width="0.8"/>
<line x1="451.00" y1="385.40" x2="451.00" y2="387.60" stroke="#333" stroke-width="0.8"/>
<line x1="453.99" y1="385.40" x2="453.99" y2="387.60" stroke="#333" stroke-width="0.8"/>
<line x1="456.31" y1="385.40" x2="456.31" y2="387.60" stroke="#333" stroke-width="0.8"/>
<line x1="458.20" y1="385.40" x2="458.20" y2="387.60" stroke="#333" stroke-width="0.8"/>
<line x1="459.80" y1="385.40" x2="459.80" y2="387.60" stroke="#333" stroke-width="0.8"/>
<line x1="461.18" y1="385.40" x2="461.18" y2="387.60" stroke="#333" stroke-width="0.8"/>
<line x1="462.41" y1="385.40" x2="462.41" y2="387.60" stroke="#333" stroke-width="0.8"/>
<line x1="463.50" y1="385.40" x2="463.50" y2="390.40" stroke="#111" stroke-width="1.1"/>
<line x1="470.63" y1="385.40" x2="470.63" y2="387.60" stroke="#333" stroke-width="0.8"/>
<line x1="474.81" y1="385.40" x2="474.81" y2="387.60" stroke="#333" stroke-width="0.8"/>
<line x1="477.77" y1="385.40" x2="477.77" y2="387.60" stroke="#333" stroke-width="0.8"/>
<line x1="480.07" y1="385.40" x2="480.07" y2="387.60" stroke="#333" stroke-width="0.8"/>
<line x1="481.94" y1="385.40" x2="481.94" y2="387.60" stroke="#333" stroke-width="0.8"/>
<line x1="483.53" y1="385.40" x2="483.53" y2="387.60" stroke="#333" stroke-width="0.8"/>
<line x1="484.90" y1="385.40" x2="484.90" y2="387.60" stroke="#333" stroke-width="0.8"/>
<line x1="486.12" y1="385.40" x2="486.12" y2="387.60" stroke="#333" stroke-width="0.8"/>
<line x1="487.20" y1="385.40" x2="487.20" y2="390.40" stroke="#111" stroke-width="1.1"/>
<line x1="494.39" y1="385.40" x2="494.39" y2="387.60" stroke="#333" stroke-width="0.8"/>
<line x1="498.60" y1="385.40" x2="498.60" y2="387.60" stroke="#333" stroke-width="0.8"/>
<line x1="501.59" y1="385.40" x2="501.59" y2="387.60" stroke="#333" stroke-width="0.8"/>
<line x1="503.91" y1="385.40" x2="503.91" y2="387.60" stroke="#333" stroke-width="0.8"/>
<line x1="505.80" y1="385.40" x2="505.80" y2="387.60" stroke="#333" stroke-width="0.8"/>
<line x1="507.40" y1="385.40" x2="507.40" y2="387.60" stroke="#333" stroke-width="0.8"/>
<line x1="508.78" y1="385.40" x2="508.78" y2="387.60" stroke="#333" stroke-width="0.8"/>
<line x1="510.01" y1="385.40" x2="510.01" y2="387.60" stroke="#333" stroke-width="0.8"/>
<line x1="511.10" y1="385.40" x2="511.10" y2="390.40" stroke="#111" stroke-width="1.1"/>
<text transform="translate(315.20,403.68) scale(1.273,1)" font-size="11.55" fill="#111">10</text>
<text transform="translate(331.30,399.32) scale(0.951,1)" font-size="7.89" fill="#111">0</text>
<text transform="translate(359.30,403.68) scale(1.152,1)" font-size="11.55" fill="#111">10</text>
<text transform="translate(373.78,399.40) scale(1.044,1)" font-size="8.00" fill="#111">2</text>
<text transform="translate(408.64,403.68) scale(1.108,1)" font-size="11.55" fill="#111">10</text>
<text transform="translate(422.64,399.32) scale(1.136,1)" font-size="7.89" fill="#111">0</text>
<text transform="translate(451.72,403.68) scale(1.134,1)" font-size="11.55" fill="#111">10</text>
<text transform="translate(465.93,399.40) scale(1.181,1)" font-size="8.00" fill="#111">2</text>
<text transform="translate(500.21,403.68) scale(1.143,1)" font-size="11.55" fill="#111">10</text>
<text transform="translate(514.85,399.40) scale(0.927,1)" font-size="8.12" fill="#111">4</text>
<line x1="321.00" y1="412.30" x2="413.20" y2="412.30" stroke="#333" stroke-width="1.1"/>
<line x1="420.60" y1="412.30" x2="513.20" y2="412.30" stroke="#333" stroke-width="1.1"/>
<text transform="translate(331.20,430.80) scale(1.065,1)" font-size="16.14" fill="#111">Annexin V</text>
<text transform="translate(458.27,431.30) scale(1.066,1)" font-size="16.81" fill="#111">PI</text>
<text transform="translate(-0.33,540.50) scale(0.971,1)" font-size="25.80" font-weight="bold" fill="#000">D</text>
<defs><filter id="bl" x="-20%" y="-50%" width="140%" height="200%"><feGaussianBlur stdDeviation="0.95"/></filter><filter id="bl2" x="-20%" y="-50%" width="140%" height="200%"><feGaussianBlur stdDeviation="1.3"/></filter><linearGradient id="blotg" x1="0" y1="0" x2="0" y2="1"><stop offset="0" stop-color="#cfcfcf"/><stop offset="1" stop-color="#c9c9c9"/></linearGradient></defs>
<rect x="88.10" y="540.80" width="131.90" height="53.20" fill="url(#blotg)" stroke="none" stroke-width="1"/>
<rect x="88.10" y="602.70" width="132.20" height="31.00" fill="#c8c8c8" stroke="none" stroke-width="1"/>
<g filter="url(#bl)"><rect x="100.10" y="554.10" width="22.90" height="8.80" rx="3.20" ry="4.40" fill="#1c1c1c" transform="rotate(0,111.55,558.50)"/></g>
<g filter="url(#bl)"><rect x="130.40" y="552.80" width="20.20" height="8.70" rx="2.50" ry="4.35" fill="#858585" transform="rotate(0,140.50,557.15)"/></g>
<g filter="url(#bl)"><rect x="131.50" y="554.40" width="18.00" height="5.60" rx="2.00" ry="2.80" fill="#707070" transform="rotate(0,140.50,557.20)"/></g>
<g filter="url(#bl)"><rect x="158.40" y="556.10" width="22.40" height="6.50" rx="2.80" ry="3.25" fill="#1e1e1e" transform="rotate(0,169.60,559.35)"/></g>
<g filter="url(#bl)"><path d="M188.3,554.2 L197,553 L204,550.8 L208.5,549.5 L211.4,550 L212.4,554.2 L211.4,558.4 L204,559.2 L196,560 L188.8,561.1 L187.3,557.8 Z" fill="#333"/></g>
<g filter="url(#bl2)"><path d="M207.2,552 L207.6,543 L209.2,541.6 L209.6,552 Z" fill="#999"/></g>
<g filter="url(#bl)"><rect x="129.00" y="571.00" width="22.90" height="8.70" rx="3.00" ry="4.35" fill="#1e1e1e" transform="rotate(0,140.45,575.35)"/></g>
<g filter="url(#bl)"><rect x="97.00" y="612.80" width="25.30" height="11.20" rx="4.50" ry="5.60" fill="#161616" transform="rotate(0,109.65,618.40)"/></g>
<g filter="url(#bl)"><path d="M125.4,617.5 Q125.4,613.3 130,613.3 L147.5,613.5 Q151.9,613.8 151.9,617.8 L151.9,622 Q151.9,626 146,627.2 Q139,628.4 131.5,627.2 Q125.4,626 125.4,622 Z" fill="#141414"/></g>
<g filter="url(#bl)"><rect x="155.50" y="615.20" width="25.80" height="9.80" rx="4.20" ry="4.90" fill="#181818" transform="rotate(0,168.40,620.10)"/></g>
<g filter="url(#bl)"><rect x="184.60" y="613.40" width="28.90" height="11.00" rx="4.50" ry="5.50" fill="#161616" transform="rotate(0,199.05,618.90)"/></g>
<line x1="221.60" y1="554.00" x2="224.70" y2="554.00" stroke="#333" stroke-width="1.3"/>
<text transform="translate(228.04,559.84) scale(1.099,1)" font-size="16.48" fill="#111">116</text>
<line x1="221.60" y1="576.50" x2="224.70" y2="576.50" stroke="#333" stroke-width="1.3"/>
<text transform="translate(227.50,582.24) scale(1.075,1)" font-size="16.48" fill="#111">85*</text>
<line x1="221.60" y1="617.70" x2="224.70" y2="617.70" stroke="#333" stroke-width="1.3"/>
<text transform="translate(228.53,623.74) scale(1.054,1)" font-size="16.48" fill="#111">70</text>
<text transform="translate(38.07,573.75) scale(0.988,1)" font-size="18.12" fill="#111">PARP</text>
<text transform="translate(29.87,625.50) scale(1.030,1)" font-size="16.79" fill="#111">HSC70</text>
<text transform="translate(43.01,664.50) scale(1.104,1)" font-size="15.86" fill="#111">VP16</text>
<text transform="translate(52.75,684.80) scale(1.075,1)" font-size="16.09" fill="#111">TPA</text>
<text transform="translate(1.50,705.80) scale(1.158,1)" font-size="15.17" fill="#111">z-VAD-fmk</text>
<line x1="106.00" y1="660.70" x2="110.80" y2="660.70" stroke="#111" stroke-width="2.0"/>
<line x1="134.40" y1="660.70" x2="143.20" y2="660.70" stroke="#111" stroke-width="2.0"/>
<line x1="138.80" y1="656.30" x2="138.80" y2="665.10" stroke="#111" stroke-width="2.0"/>
<line x1="166.90" y1="660.70" x2="171.70" y2="660.70" stroke="#111" stroke-width="2.0"/>
<line x1="198.80" y1="660.70" x2="203.60" y2="660.70" stroke="#111" stroke-width="2.0"/>
<line x1="106.00" y1="680.80" x2="110.80" y2="680.80" stroke="#111" stroke-width="2.0"/>
<line x1="136.40" y1="680.80" x2="141.20" y2="680.80" stroke="#111" stroke-width="2.0"/>
<line x1="164.90" y1="680.80" x2="173.70" y2="680.80" stroke="#111" stroke-width="2.0"/>
<line x1="169.30" y1="676.40" x2="169.30" y2="685.20" stroke="#111" stroke-width="2.0"/>
<line x1="196.80" y1="680.80" x2="205.60" y2="680.80" stroke="#111" stroke-width="2.0"/>
<line x1="201.20" y1="676.40" x2="201.20" y2="685.20" stroke="#111" stroke-width="2.0"/>
<line x1="106.00" y1="701.10" x2="110.80" y2="701.10" stroke="#111" stroke-width="2.0"/>
<line x1="136.40" y1="701.10" x2="141.20" y2="701.10" stroke="#111" stroke-width="2.0"/>
<line x1="166.90" y1="701.10" x2="171.70" y2="701.10" stroke="#111" stroke-width="2.0"/>
<line x1="196.80" y1="701.10" x2="205.60" y2="701.10" stroke="#111" stroke-width="2.0"/>
<line x1="201.20" y1="696.70" x2="201.20" y2="705.50" stroke="#111" stroke-width="2.0"/>
<text transform="translate(274.06,472.80) scale(0.909,1)" font-size="26.09" font-weight="bold" fill="#000">E</text>
<defs><pattern id="hl" width="3.6" height="3.6" patternUnits="userSpaceOnUse" patternTransform="rotate(45)"><rect width="3.6" height="3.6" fill="#fff"/><rect width="1.5" height="3.6" fill="#111"/></pattern><pattern id="hd" width="3.4" height="3.4" patternUnits="userSpaceOnUse" patternTransform="rotate(45)"><rect width="3.4" height="3.4" fill="#111"/><rect x="1.7" y="1.7" width="1.2" height="1.2" fill="#ddd"/></pattern></defs>
<line x1="349.00" y1="646.20" x2="349.00" y2="648.00" stroke="#222" stroke-width="1.1"/>
<line x1="346.70" y1="646.20" x2="351.30" y2="646.20" stroke="#222" stroke-width="1.3"/>
<rect x="341.75" y="648.00" width="14.50" height="7.40" fill="#fff" stroke="#111" stroke-width="1.1"/>
<line x1="364.00" y1="624.30" x2="364.00" y2="634.50" stroke="#222" stroke-width="1.1"/>
<line x1="361.70" y1="624.30" x2="366.30" y2="624.30" stroke="#222" stroke-width="1.3"/>
<rect x="356.25" y="634.50" width="15.50" height="20.90" fill="#000" stroke="#111" stroke-width="1.1"/>
<line x1="392.00" y1="634.30" x2="392.00" y2="640.50" stroke="#222" stroke-width="1.1"/>
<line x1="389.70" y1="634.30" x2="394.30" y2="634.30" stroke="#222" stroke-width="1.3"/>
<rect x="385.50" y="640.50" width="14.00" height="14.90" fill="#fff" stroke="#111" stroke-width="1.1"/>
<line x1="407.00" y1="547.50" x2="407.00" y2="561.90" stroke="#222" stroke-width="1.1"/>
<line x1="404.70" y1="547.50" x2="409.30" y2="547.50" stroke="#222" stroke-width="1.3"/>
<rect x="399.50" y="561.90" width="15.50" height="93.50" fill="#000" stroke="#111" stroke-width="1.1"/>
<line x1="435.75" y1="558.30" x2="435.75" y2="567.50" stroke="#222" stroke-width="1.1"/>
<line x1="433.45" y1="558.30" x2="438.05" y2="558.30" stroke="#222" stroke-width="1.3"/>
<rect x="428.50" y="567.50" width="14.75" height="87.90" fill="#fff" stroke="#111" stroke-width="1.1"/>
<line x1="450.75" y1="514.30" x2="450.75" y2="518.30" stroke="#222" stroke-width="1.1"/>
<line x1="448.45" y1="514.30" x2="453.05" y2="514.30" stroke="#222" stroke-width="1.3"/>
<rect x="443.25" y="518.30" width="14.95" height="137.10" fill="#000" stroke="#111" stroke-width="1.1"/>
<rect x="471.30" y="648.30" width="15.00" height="7.10" fill="url(#hl)" stroke="#111" stroke-width="1.1"/>
<line x1="493.30" y1="640.50" x2="493.30" y2="645.10" stroke="#222" stroke-width="1.1"/>
<line x1="491.00" y1="640.50" x2="495.60" y2="640.50" stroke="#222" stroke-width="1.3"/>
<rect x="486.30" y="645.10" width="14.70" height="10.30" fill="url(#hd)" stroke="#111" stroke-width="1.1"/>
<line x1="331.40" y1="489.80" x2="512.40" y2="489.80" stroke="#444" stroke-width="1"/>
<line x1="512.40" y1="489.80" x2="512.40" y2="655.40" stroke="#444" stroke-width="1"/>
<line x1="331.40" y1="489.80" x2="331.40" y2="655.90" stroke="#444" stroke-width="1.2"/>
<line x1="330.90" y1="655.40" x2="512.40" y2="655.40" stroke="#444" stroke-width="1.2"/>
<line x1="328.80" y1="655.40" x2="331.40" y2="655.40" stroke="#444" stroke-width="1"/>
<line x1="328.80" y1="634.70" x2="331.40" y2="634.70" stroke="#444" stroke-width="1"/>
<line x1="328.80" y1="614.00" x2="331.40" y2="614.00" stroke="#444" stroke-width="1"/>
<line x1="328.80" y1="593.30" x2="331.40" y2="593.30" stroke="#444" stroke-width="1"/>
<line x1="328.80" y1="572.60" x2="331.40" y2="572.60" stroke="#444" stroke-width="1"/>
<line x1="328.80" y1="551.90" x2="331.40" y2="551.90" stroke="#444" stroke-width="1"/>
<line x1="328.80" y1="531.20" x2="331.40" y2="531.20" stroke="#444" stroke-width="1"/>
<line x1="328.80" y1="510.50" x2="331.40" y2="510.50" stroke="#444" stroke-width="1"/>
<line x1="328.80" y1="489.80" x2="331.40" y2="489.80" stroke="#444" stroke-width="1"/>
<text transform="translate(306.63,498.73) scale(1.025,1)" font-size="16.76" fill="#111">80</text>
<text transform="translate(306.12,540.64) scale(1.090,1)" font-size="16.20" fill="#111">60</text>
<text transform="translate(306.66,579.14) scale(1.088,1)" font-size="15.77" fill="#111">40</text>
<text transform="translate(305.91,620.64) scale(1.102,1)" font-size="16.20" fill="#111">20</text>
<text transform="translate(314.59,660.55) scale(1.153,1)" font-size="15.35" fill="#111">0</text>
<line x1="378.00" y1="655.40" x2="378.00" y2="658.70" stroke="#444" stroke-width="1"/>
<line x1="421.75" y1="655.40" x2="421.75" y2="658.70" stroke="#444" stroke-width="1"/>
<line x1="466.20" y1="655.40" x2="466.20" y2="658.70" stroke="#444" stroke-width="1"/>
<text transform="translate(348.17,679.00) scale(1.091,1)" font-size="16.29" fill="#111">12</text>
<text transform="translate(392.15,679.00) scale(1.043,1)" font-size="16.29" fill="#111">24</text>
<text transform="translate(435.93,678.84) scale(1.145,1)" font-size="16.06" fill="#111">48</text>
<line x1="337.30" y1="685.30" x2="466.20" y2="685.30" stroke="#333" stroke-width="1.1"/>
<text transform="translate(359.86,703.10) scale(1.091,1)" font-size="15.59" fill="#111">Time (hours)</text>
<text transform="translate(289.77,673.08) rotate(-90) scale(0.941,1)" font-size="18.72" fill="#111">Cells producing ROS (%)</text>
<text transform="translate(497.71,701.75) rotate(-90) scale(0.888,1)" font-size="19.01" fill="#111">NAC</text>
</svg></body></html>
